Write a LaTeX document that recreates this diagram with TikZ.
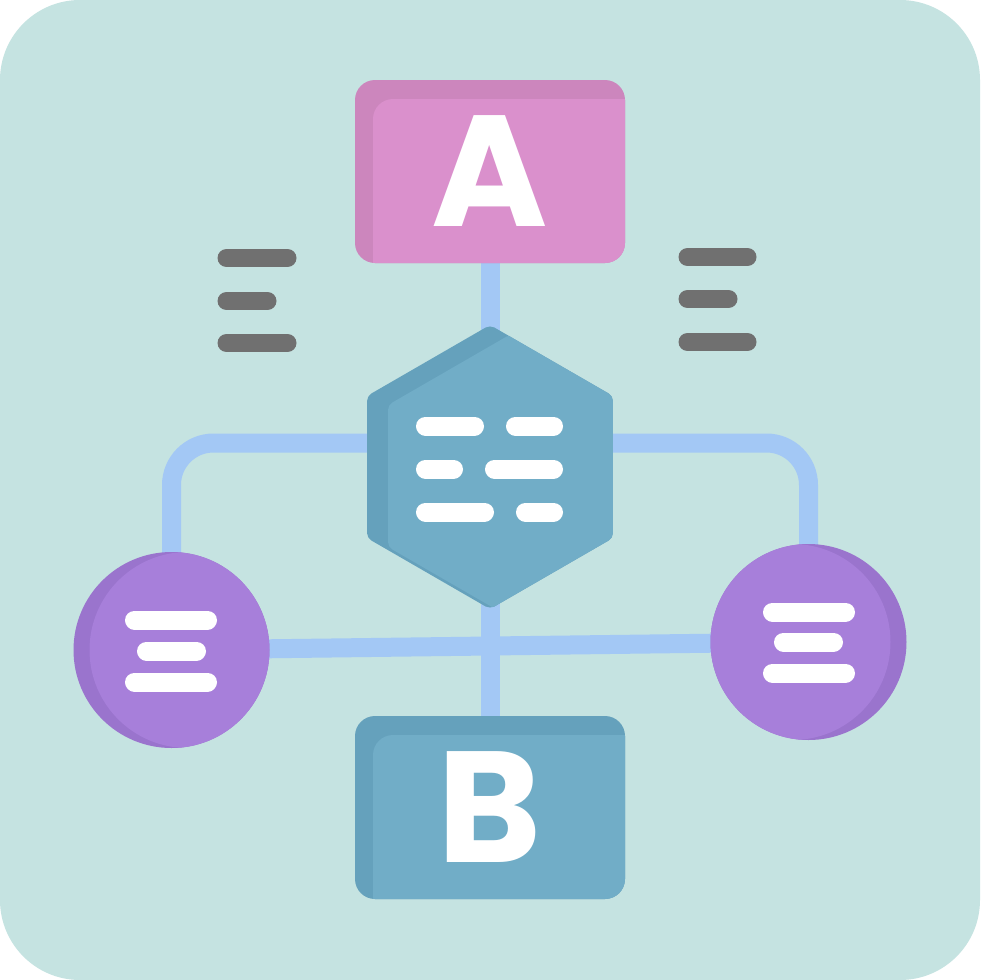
\documentclass[tikz,border=0pt]{standalone}
\usepackage{fontspec}
\usetikzlibrary{shapes.geometric}
\newfontfamily\letterfont{Poppins}
\definecolor{bgcol}{HTML}{C5E3E1}
\definecolor{conncol}{HTML}{A3C8F5}
\definecolor{pinkdark}{HTML}{CC86BD}
\definecolor{pinklight}{HTML}{DA90CC}
\definecolor{hexdark}{HTML}{65A1BC}
\definecolor{hexlight}{HTML}{71ADC7}
\definecolor{purpdark}{HTML}{9A74CD}
\definecolor{purplight}{HTML}{A77FDA}
\definecolor{graycol}{HTML}{707070}
\pgfdeclarelayer{back}
\pgfdeclarelayer{links}
\pgfsetlayers{back,links,main}
\tikzset{
  conn/.style={draw=conncol, line width=19pt},
  whitebar/.style={draw=white, line width=19pt, line cap=round},
  graybar/.style={draw=graycol, line width=18pt, line cap=round},
  hexnode/.style={regular polygon, regular polygon sides=6, shape border rotate=30,
    minimum size=284pt, inner sep=0pt, outer sep=0pt, rounded corners=5pt, fill=hexdark,
    path picture={\fill[hexlight, rounded corners=5pt]
      ([shift={(21pt,133pt)}]path picture bounding box.center) --
      ([shift={(144pt,62pt)}]path picture bounding box.center) --
      ([shift={(144pt,-80pt)}]path picture bounding box.center) --
      ([shift={(21pt,-151pt)}]path picture bounding box.center) --
      ([shift={(-102pt,-80pt)}]path picture bounding box.center) --
      ([shift={(-102pt,62pt)}]path picture bounding box.center) -- cycle;}},
  boxnode/.style 2 args={rectangle, minimum width=270pt, minimum height=183pt, inner sep=0pt, outer sep=0pt,
    rounded corners=20pt, fill=#1, text=white,
    font=\letterfont\bfseries\fontsize{158}{158}\selectfont,
    path picture={\fill[#2, rounded corners=20pt] ([shift={(18pt,-19pt)}]path picture bounding box.north west) rectangle ([shift={(40pt,-40pt)}]path picture bounding box.south east);}},
  circnode/.style={circle, minimum size=196pt, inner sep=0pt, outer sep=0pt, fill=purpdark,
    path picture={\fill[purplight] ([xshift=#1]path picture bounding box.center) circle[radius=98pt];}},
}
\begin{document}
\begin{tikzpicture}[x=1pt,y=-1pt]
\useasboundingbox (0,0) rectangle (980,980);
\begin{pgfonlayer}{back}
\fill[white] (-200,-200) rectangle (1180,1180);
\fill[bgcol, rounded corners=80pt] (0,0) rectangle (980,980);
\end{pgfonlayer}
\node[boxnode={pinkdark}{pinklight}] (A) at (490,171.5) {A};
\node[boxnode={hexdark}{hexlight}] (B) at (490,807.5) {B};
\node[hexnode] (H) at (490,467) {};
\node[circnode=16pt] (L) at (171.5,650) {};
\node[circnode=-16pt] (R) at (808.5,642) {};
\begin{pgfonlayer}{links}
\draw[conn] (A.center) -- (H.center);
\draw[conn] (H.center) -- (B.center);
\draw[conn] (L.center) -- (R.center);
\draw[conn, rounded corners=42pt] ([yshift=24pt]H.center) -| (L.center);
\draw[conn, rounded corners=42pt] ([yshift=24pt]H.center) -| (R.center);
\end{pgfonlayer}
\draw[graybar] (226.5,258) -- (287.5,258);
\draw[graybar] (226.5,301) -- (267.5,301);
\draw[graybar] (226.5,343) -- (287.5,343);
\draw[graybar] (687.5,257) -- (747.5,257);
\draw[graybar] (687.5,299) -- (728.5,299);
\draw[graybar] (687.5,342) -- (747.5,342);
\draw[whitebar] (425.5,426) -- (474.5,426);
\draw[whitebar] (515.5,426) -- (553.5,426);
\draw[whitebar] (425.5,469) -- (453.5,469);
\draw[whitebar] (494.5,469) -- (553.5,469);
\draw[whitebar] (425.5,512) -- (484.5,512);
\draw[whitebar] (525.5,512) -- (553.5,512);
\draw[whitebar] (134.5,620) -- (207.5,620);
\draw[whitebar] (146.5,651) -- (196.5,651);
\draw[whitebar] (134.5,682) -- (207.5,682);
\draw[whitebar] (772.5,612) -- (845.5,612);
\draw[whitebar] (783.5,642) -- (833.5,642);
\draw[whitebar] (772.5,673) -- (845.5,673);
\end{tikzpicture}
\end{document}
